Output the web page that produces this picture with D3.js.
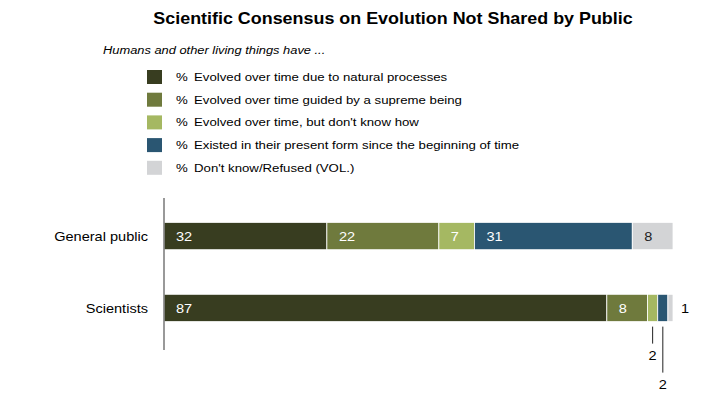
<!DOCTYPE html>
<html lang="en">
<head>
  <meta charset="UTF-8" />
  <title>Scientific Consensus on Evolution Not Shared by Public</title>
  <script src="https://d3js.org/d3.v7.min.js"></script>
  <style>
    body { margin: 0; background: white; font-family: "Liberation Sans", Arial, sans-serif; }
    svg { display: block; }
  </style>
</head>
<body>
<svg width="708" height="399"></svg>
<script>
const groups = ["General public", "Scientists"];
const seriesNames = [
  "Evolved over time due to natural processes",
  "Evolved over time guided by a supreme being",
  "Evolved over time, but don't know how",
  "Existed in their present form since the beginning of time",
  "Don't know/Refused (VOL.)"
];
const generalPublic = [32, 22, 7, 31, 8];
const scientists = [87, 8, 2, 2, 1];
const colors = ["#383d20", "#6f7a3d", "#a5b862", "#2a5672", "#d3d4d6"];

const svg = d3.select("svg");

// the original type is a bit wider than Liberation Sans, so stretch it a little
function label(parent, x, y, str, size) {
  return parent.append("text")
    .attr("transform", `translate(${x},${y}) scale(1.12,1)`)
    .style("font-size", size + "px")
    .text(str);
}

label(svg, 393, 24, "Scientific Consensus on Evolution Not Shared by Public", 16)
  .attr("text-anchor", "middle").style("font-weight", "bold");
label(svg, 103, 54, "Humans and other living things have ...", 11.5)
  .style("font-style", "italic");

// legend
const legend = svg.append("g").attr("transform", "translate(147,70)");
seriesNames.forEach((name, i) => {
  const row = legend.append("g").attr("transform", `translate(0,${i * 22.7})`);
  row.append("rect").attr("width", 15).attr("height", 14).attr("fill", colors[i]);
  label(row, 29, 11, "%", 11.8);
  label(row, 47, 11, name, 11.8);
});

const rows = [generalPublic, scientists];
const x = d3.scaleLinear().domain([0, 100]).range([164, 673]);
const y = d3.scaleBand().domain(groups).range([208, 336]).paddingInner(0.62).paddingOuter(0.2);

const g = svg.append("g");
groups.forEach((grp, gi) => {
  const vals = rows[gi];
  let acc = 0;
  vals.forEach((v, i) => {
    g.append("rect")
      .attr("x", x(acc)).attr("y", y(grp))
      .attr("width", x(acc + v) - x(acc)).attr("height", y.bandwidth())
      .attr("fill", colors[i]).attr("stroke", "#ffffff").attr("stroke-width", 0.8);
    if (x(acc + v) - x(acc) > 20) {
      label(g, x(acc) + 12, y(grp) + y.bandwidth() / 2 + 5, v, 13)
        .attr("fill", i === 4 ? "#222" : "#fff");
    }
    acc += v;
  });
  label(g, 148, y(grp) + y.bandwidth() / 2 + 5, grp, 13).attr("text-anchor", "end");
});

// small labels for Scientists
const sy = y("Scientists") + y.bandwidth();
const cum = d3.cumsum(scientists);
const mid = i => x(cum[i] - scientists[i] / 2);
[[2, 17, 360], [3, 46, 389]].forEach(([i, len, ty]) => {
  g.append("line").attr("x1", mid(i)).attr("x2", mid(i)).attr("y1", sy + 5).attr("y2", sy + 5 + len)
    .attr("stroke", "#222").attr("stroke-width", 1);
  label(g, mid(i), ty, scientists[i], 13).attr("text-anchor", "middle");
});
label(g, 685, y("Scientists") + y.bandwidth() / 2 + 5, scientists[4], 13)
  .attr("text-anchor", "middle");

// axis line
svg.append("line").attr("x1", 164).attr("x2", 164).attr("y1", 198).attr("y2", 350)
  .attr("stroke", "#777").attr("stroke-width", 1.5);
</script>
</body>
</html>
